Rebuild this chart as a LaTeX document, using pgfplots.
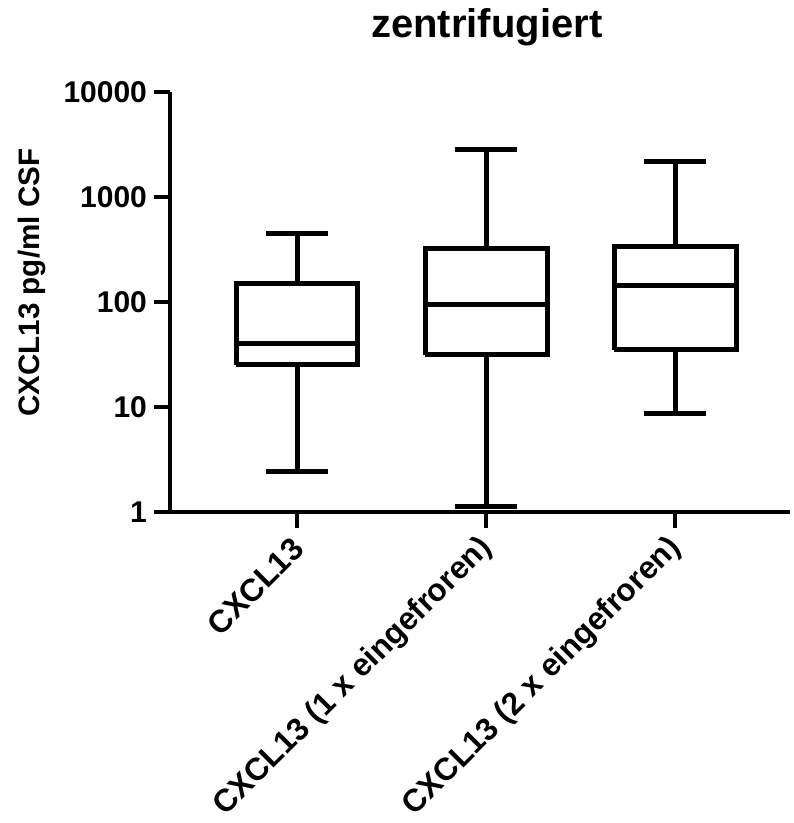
\documentclass[border=0pt]{standalone}
\usepackage{pgfplots}
\pgfplotsset{compat=1.18}
\usepackage{fontspec}
\setmainfont{Liberation Sans}
\begin{document}
\begin{tikzpicture}
\useasboundingbox (-85pt,-155.65pt) rectangle (311.5pt,255.85pt);
\begin{axis}[
  at={(0pt,0pt)}, anchor=south west,
  width=310pt, height=210pt, scale only axis,
  ymode=log, ymin=1, ymax=10000,
  xmin=0.328, xmax=3.608,
  axis x line=bottom, axis y line=left,
  axis line style={-, line width=2pt},
  ytick={1,10,100,1000,10000},
  yticklabels={1,10,100,1000,10000},
  yminorticks=false,
  xtick={1,2,3},
  xticklabels={CXCL13, CXCL13 (1 x eingefroren), CXCL13 (2 x eingefroren)},
  tick align=outside,
  major tick length=8pt,
  tick style={line width=2pt, black},
  yticklabel style={font=\bfseries\fontsize{15}{18}\selectfont},
  xticklabel style={font=\bfseries\fontsize{15.8}{19}\selectfont, xshift=3pt, yshift=-5.5pt, rotate=45, anchor=east},
  ylabel={CXCL13 pg/ml CSF},
  ylabel style={font=\bfseries\fontsize{14.8}{17}\selectfont, at={(axis description cs:-0.222,0.545)}, anchor=center},
  title={zentrifugiert},
  title style={font=\bfseries\fontsize{20}{24}\selectfont, at={(axis description cs:0.511,1)}, anchor=center, yshift=26pt},
  clip=false,
  bx/.style={black, solid, line width=2.5pt, line join=miter, mark=none},
]
% Box 1: whiskers 2.4 / 448, quartiles 25 / 150, median 40.2
\addplot[bx] coordinates {(0.6775,25) (1.3225,25) (1.3225,150) (0.6775,150) (0.6775,25)};
\addplot[bx] coordinates {(0.6775,40.2) (1.3225,40.2)};
\addplot[bx] coordinates {(1,150) (1,448)};
\addplot[bx] coordinates {(0.835,448) (1.165,448)};
\addplot[bx] coordinates {(1,25) (1,2.4)};
\addplot[bx] coordinates {(0.835,2.4) (1.165,2.4)};
% Box 2: whiskers 1.12 / 2845, quartiles 31.3 / 320, median 95
\addplot[bx] coordinates {(1.6775,31.3) (2.3225,31.3) (2.3225,320) (1.6775,320) (1.6775,31.3)};
\addplot[bx] coordinates {(1.6775,95) (2.3225,95)};
\addplot[bx] coordinates {(2,320) (2,2845)};
\addplot[bx] coordinates {(1.835,2845) (2.165,2845)};
\addplot[bx] coordinates {(2,31.3) (2,1.12)};
\addplot[bx] coordinates {(1.835,1.12) (2.165,1.12)};
% Box 3: whiskers 8.65 / 2154, quartiles 34.7 / 334, median 143
\addplot[bx] coordinates {(2.6775,34.7) (3.3225,34.7) (3.3225,334) (2.6775,334) (2.6775,34.7)};
\addplot[bx] coordinates {(2.6775,143) (3.3225,143)};
\addplot[bx] coordinates {(3,334) (3,2154)};
\addplot[bx] coordinates {(2.835,2154) (3.165,2154)};
\addplot[bx] coordinates {(3,34.7) (3,8.65)};
\addplot[bx] coordinates {(2.835,8.65) (3.165,8.65)};
\end{axis}
\end{tikzpicture}
\end{document}
